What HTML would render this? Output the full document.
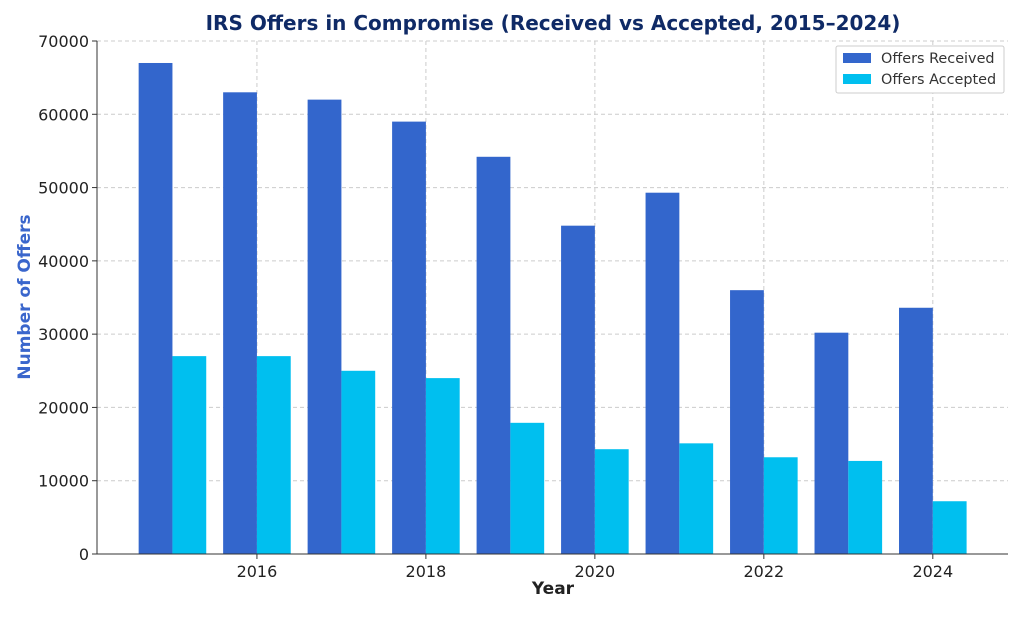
<!DOCTYPE html>
<html><head><meta charset="utf-8"><style>
body{margin:0;background:#fff;font-family:"DejaVu Sans","Liberation Sans",sans-serif}
svg text{font-family:"DejaVu Sans","Liberation Sans",sans-serif}
</style></head><body>
<svg id="chart" width="1024" height="614" viewBox="0 0 1024 614" xmlns="http://www.w3.org/2000/svg">
<text x="553" y="30" text-anchor="middle" font-size="20" font-weight="bold" fill="#0f2a66">IRS Offers in Compromise (Received vs Accepted, 2015–2024)</text>
<g id="grid"></g><g id="bars"></g><g id="axes"></g>
<text x="553" y="594" text-anchor="middle" font-size="17" font-weight="bold" fill="#222">Year</text>
<text transform="translate(30,297) rotate(-90)" text-anchor="middle" font-size="17" font-weight="bold" fill="#3a66cc">Number of Offers</text>
<g>
<rect x="836" y="46" width="168" height="47" fill="#fff" stroke="#ccc" rx="2"/>
<g><rect x="843" y="53" width="28" height="10" fill="#3366cc"/><text x="881" y="63" font-size="14.4" fill="#333">Offers Received</text></g>
<g><rect x="843" y="74" width="28" height="10" fill="#00bfef"/><text x="881" y="84" font-size="14.4" fill="#333">Offers Accepted</text></g>
</g>
</svg>
<script>
const years=[2015,2016,2017,2018,2019,2020,2021,2022,2023,2024];
const received=[67000,63000,62000,59000,54200,44800,49300,36000,30200,33600];
const accepted=[27000,27000,25000,24000,17900,14300,15100,13200,12700,7200];
const yTicks=[0,10000,20000,30000,40000,50000,60000,70000];
const xTicks=[2016,2018,2020,2022,2024];
const NS="http://www.w3.org/2000/svg";
const L=97,R=1008,T=41,B=554;
const x=v=>L+(v-2014.107)/(2024.89-2014.107)*(R-L);
const y=v=>B-v/70000*(B-T);
function mk(tag,attrs,parent){const e=document.createElementNS(NS,tag);for(const k in attrs)e.setAttribute(k,attrs[k]);parent.appendChild(e);return e;}
const grid=document.getElementById('grid'),bars=document.getElementById('bars'),axes=document.getElementById('axes');
yTicks.forEach(t=>{
 const g=mk('line',{x1:L,x2:R,y1:y(t),y2:y(t),stroke:'#ccc','stroke-dasharray':'4,3'},grid);
 
 
 mk('line',{x1:L-5,x2:L,y1:y(t),y2:y(t),stroke:'#333'},axes);
 const tx=mk('text',{x:L-8,y:y(t)+6,'text-anchor':'end','font-size':'16',fill:'#222'},axes);tx.textContent=t;
 
 
});
xTicks.forEach(t=>{
 const g=mk('line',{x1:x(t),x2:x(t),y1:T,y2:B,stroke:'#ccc','stroke-dasharray':'4,3'},grid);
 
 
 mk('line',{x1:x(t),x2:x(t),y1:B,y2:B+5,stroke:'#333'},axes);
 const tx=mk('text',{x:x(t),y:B+23,'text-anchor':'middle','font-size':'16',fill:'#222'},axes);tx.textContent=t;
 
 
});
const w=x(0.4)-x(0);
years.forEach((yr,i)=>{
 const a=mk('rect',{x:x(yr)-w,y:y(received[i]),width:w,height:B-y(received[i]),fill:'#3366cc'},bars);
 
 
 const b=mk('rect',{x:x(yr),y:y(accepted[i]),width:w,height:B-y(accepted[i]),fill:'#00bfef'},bars);
 
 
});
mk('line',{x1:L,x2:L,y1:T,y2:B,stroke:'#333'},axes);
mk('line',{x1:L,x2:R,y1:B,y2:B,stroke:'#333'},axes);
</script>
</body></html>
